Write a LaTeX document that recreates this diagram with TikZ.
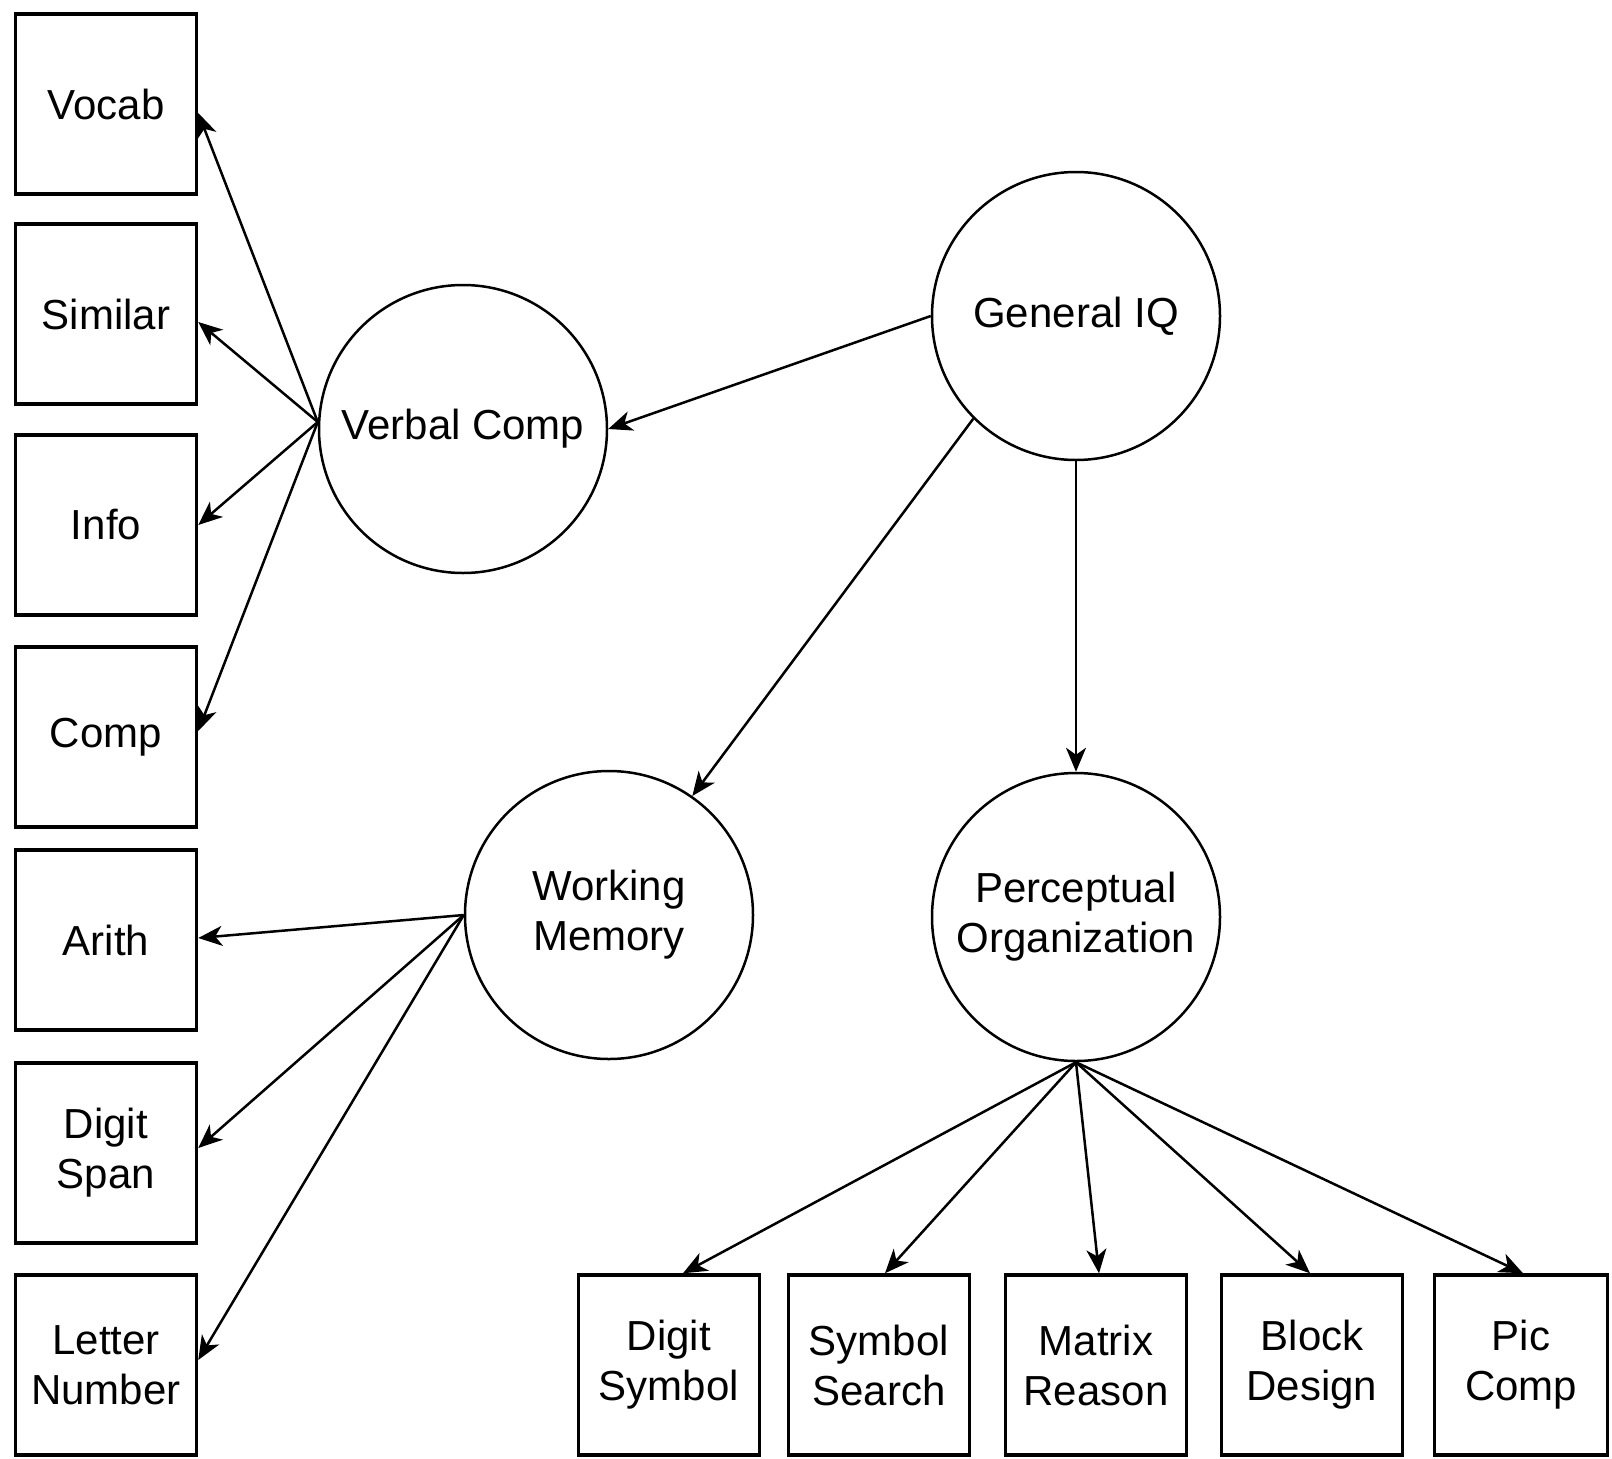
\documentclass[tikz,border=0pt]{standalone}
\usepackage{fontspec}
\setmainfont{Liberation Sans}
\usetikzlibrary{arrows.meta,calc}
\begin{document}
\begin{tikzpicture}[x=1pt,y=-1pt,
  every node/.style={font=\fontsize{42}{50}\selectfont, align=center, inner sep=0pt},
  box/.style={draw, line width=3.5pt, minimum width=181pt, minimum height=180pt},
  latent/.style={draw, circle, line width=2.5pt, minimum size=288pt},
  arr/.style={line width=2.5pt, -{Stealth[length=24pt,width=20pt,inset=7pt]}}]
\useasboundingbox (0,0) rectangle (1612,1459);
% left boxes
\node[box] (vocab) at (106,104) {Vocab};
\node[box] (similar) at (106,314) {Similar};
\node[box] (info) at (106,525) {Info};
\node[box] (comp) at (106,737) {Comp};
\node[box] (arith) at (106,940) {Arith};
\node[box] (dspan) at (106,1153) {Digit\\Span};
\node[box] (lnum) at (106,1365) {Letter\\Number};
% bottom boxes
\node[box] (dsym) at (669,1365) {Digit\\Symbol};
\node[box] (ssearch) at (879,1365) {Symbol\\Search};
\node[box] (matrix) at (1096,1365) {Matrix\\Reason};
\node[box] (block) at (1312,1365) {Block\\Design};
\node[box, minimum width=173pt] (pic) at (1521,1365) {Pic\\Comp};
% latent variables
\node[latent] (giq) at (1076,316) {General IQ};
\node[latent] (vc) at (463,429) {Verbal Comp};
\node[latent] (wm) at (609,915) {Working\\Memory};
\node[latent] (po) at (1076,917) {Perceptual\\Organization};
% general IQ
\draw[arr] (giq.west) -- (vc.east);
\draw[arr] (giq.225) -- (wm.55);
\draw[arr] (giq.south) -- (po.north);
% verbal comp
\coordinate (vcs) at ($(vc.west)+(0,-7)$);
\draw[arr] (vcs) -- ($(vocab.east)+(0,9)$);
\draw[arr] (vcs) -- ($(similar.east)+(0,8)$);
\draw[arr] (vcs) -- (info.east);
\draw[arr] (vcs) -- ($(comp.east)+(0,-6)$);
% working memory
\draw[arr] (wm.west) -- ($(arith.east)+(0,-2)$);
\draw[arr] (wm.west) -- ($(dspan.east)+(0,-5)$);
\draw[arr] (wm.west) -- ($(lnum.east)+(0,-5)$);
% perceptual organization
\draw[arr] (po.south) -- ($(dsym.north)+(14,0)$);
\draw[arr] (po.south) -- ($(ssearch.north)+(6,0)$);
\draw[arr] (po.south) -- ($(matrix.north)+(3,0)$);
\draw[arr] (po.south) -- ($(block.north)+(-2,0)$);
\draw[arr] (po.south) -- ($(pic.north)+(2,0)$);
\end{tikzpicture}
\end{document}
